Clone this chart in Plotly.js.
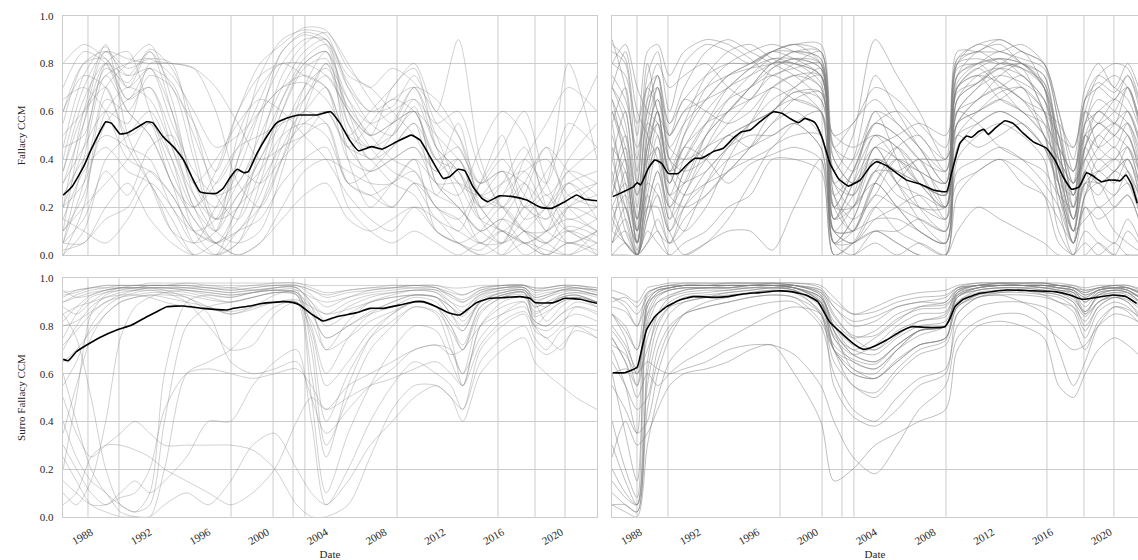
<!DOCTYPE html>
<html><head><meta charset="utf-8">
<script src="https://cdn.plot.ly/plotly-3.0.1.min.js"></script>
<style>html,body{margin:0;padding:0;background:#fff}#chart{width:1138px;height:560px}</style>
</head><body><div id="chart"></div>
<script>
// ---------- tick labels / event lines ----------
const TICK_YEARS = [1988, 1992, 1996, 2000, 2004, 2008, 2012, 2016, 2020];
const TICK_TEXT = ['1988', '1992', '1996', '2000', '2004', '2008', '2012', '2016', '2020'];
const VLINES = [1987.79, 1989.90, 1997.53, 2000.39, 2001.75, 2002.56, 2008.83, 2015.70, 2018.22, 2020.26];

// ---------- top-left: Fallacy CCM (left column) ----------
const TL_X = [1986.1,1987.5,1989,1990.5,1992,1993.5,1995,1996.5,1998,1999.5,2001,2002.5,2004,2005.5,2007,2008.5,2010,2011.5,2013,2014.5,2016,2017.5,2019,2020.5,2022.44];
const TL_LINES = [
[.45,.75,.87,.70,.85,.60,.25,.10,.40,.75,.90,.94,.92,.70,.55,.50,.62,.30,.20,.10,.15,.10,.05,.12,.08],
[.10,.55,.85,.78,.82,.80,.45,.15,.20,.55,.85,.92,.88,.60,.40,.45,.55,.25,.40,.15,.05,.20,.10,.05,.10],
[.60,.80,.82,.65,.70,.45,.20,.05,.15,.45,.75,.88,.93,.80,.65,.55,.70,.50,.30,.25,.35,.20,.15,.25,.30],
[.05,.30,.70,.80,.88,.65,.30,.20,.35,.60,.80,.90,.90,.75,.70,.60,.50,.35,.55,.20,.10,.05,.00,.10,.05],
[.30,.45,.60,.55,.80,.80,.78,.60,.30,.20,.40,.70,.85,.65,.50,.70,.78,.45,.25,.05,.05,.10,.20,.30,.15],
[.00,.10,.40,.50,.60,.40,.10,.00,.05,.30,.60,.80,.85,.40,.20,.30,.40,.10,.05,.02,.10,.05,.00,.05,.00],
[.20,.60,.88,.50,.30,.10,.05,.10,.50,.70,.80,.75,.70,.50,.60,.70,.80,.60,.90,.40,.20,.30,.10,.20,.25],
[.70,.85,.80,.60,.50,.30,.05,.00,.10,.20,.40,.60,.80,.50,.30,.20,.30,.20,.10,.30,.50,.20,.30,.80,.40],
[.10,.20,.30,.40,.55,.30,.20,.30,.45,.50,.55,.60,.70,.45,.35,.40,.45,.35,.40,.20,.25,.35,.40,.25,.20],
[.05,.05,.20,.30,.15,.05,.00,.05,.10,.15,.30,.40,.45,.20,.10,.05,.10,.05,.00,.05,.00,.05,.02,.00,.05],
[.40,.70,.85,.82,.80,.80,.78,.70,.55,.40,.45,.55,.60,.45,.55,.65,.60,.40,.30,.15,.25,.40,.30,.55,.45],
[.50,.60,.70,.50,.55,.40,.20,.35,.60,.75,.80,.80,.75,.60,.45,.35,.30,.15,.10,.05,.10,.00,.05,.10,.00],
[.00,.20,.65,.60,.75,.70,.40,.10,.05,.10,.35,.65,.75,.60,.50,.55,.60,.30,.20,.10,.05,.15,.25,.10,.05],
[.25,.40,.50,.45,.40,.20,.10,.15,.40,.60,.70,.75,.70,.40,.35,.40,.45,.30,.30,.25,.20,.10,.05,.20,.30],
[.15,.10,.05,.15,.30,.20,.05,.20,.35,.30,.40,.50,.55,.30,.25,.30,.35,.20,.15,.30,.45,.60,.30,.15,.20],
[.35,.65,.80,.75,.85,.70,.55,.35,.60,.80,.88,.95,.94,.78,.70,.78,.72,.60,.50,.30,.40,.25,.15,.35,.30],
[.05,.40,.75,.60,.50,.30,.15,.05,.00,.05,.20,.35,.40,.35,.30,.30,.40,.30,.25,.45,.60,.50,.20,.05,.10],
[.60,.75,.70,.45,.30,.15,.00,.00,.05,.20,.45,.60,.55,.30,.35,.45,.55,.40,.35,.20,.10,.20,.35,.50,.75],
[.30,.55,.80,.65,.78,.55,.35,.25,.30,.50,.70,.85,.90,.55,.40,.50,.65,.55,.60,.35,.20,.10,.10,.20,.15],
[.05,.15,.35,.25,.45,.50,.30,.40,.55,.65,.60,.50,.40,.25,.15,.10,.20,.15,.05,.00,.05,.25,.45,.20,.10],
[.45,.50,.80,.85,.60,.35,.15,.05,.20,.40,.55,.65,.80,.65,.55,.60,.65,.45,.35,.15,.10,.05,.10,.30,.20],
[.15,.35,.45,.35,.30,.10,.00,.00,.20,.30,.45,.50,.60,.45,.40,.30,.25,.10,.05,.00,.00,.10,.05,.00,.10],
[.80,.88,.82,.70,.78,.60,.30,.15,.30,.45,.65,.80,.85,.60,.50,.55,.60,.40,.45,.25,.30,.35,.20,.30,.35],
[.20,.30,.55,.65,.70,.50,.20,.10,.25,.35,.50,.55,.50,.30,.25,.20,.30,.25,.20,.10,.15,.05,.10,.15,.10],
[.55,.80,.85,.75,.78,.72,.50,.30,.45,.65,.85,.93,.90,.72,.60,.65,.70,.45,.35,.20,.30,.45,.25,.35,.45],
[.20,.45,.78,.72,.86,.78,.55,.25,.15,.35,.65,.82,.88,.70,.60,.62,.75,.55,.45,.30,.35,.15,.20,.40,.55],
[.65,.70,.60,.40,.35,.25,.10,.05,.10,.25,.50,.70,.78,.62,.50,.40,.35,.20,.15,.05,.15,.30,.45,.35,.25],
[.10,.25,.60,.70,.65,.45,.25,.15,.25,.40,.60,.78,.82,.55,.45,.55,.70,.65,.50,.25,.20,.40,.55,.70,.60],
[.35,.60,.75,.80,.82,.75,.60,.45,.50,.60,.70,.72,.65,.50,.45,.50,.60,.50,.40,.30,.35,.30,.20,.10,.15],
[.02,.05,.15,.20,.35,.25,.10,.05,.00,.05,.15,.25,.30,.15,.10,.15,.20,.10,.05,.10,.20,.10,.00,.05,.02]
];
const TL_MEAN_X = [1986.1,1986.7,1987.5,1988.0,1988.6,1989.0,1989.4,1989.97,1990.5,1991.1,1991.8,1992.2,1992.9,1993.6,1994.3,1994.85,1995.4,1995.9,1996.55,1997.0,1997.5,1997.95,1998.4,1998.7,1999.3,1999.95,2000.6,2001.3,2002.1,2003.36,2004.3,2004.95,2005.6,2006.2,2007.1,2007.8,2008.8,2009.8,2010.4,2011.2,2011.98,2012.4,2013.0,2013.45,2014.0,2014.6,2015.0,2015.8,2016.7,2017.65,2018.6,2019.35,2020.15,2021.06,2021.6,2022.44];
const TL_MEAN_Y = [.25,.285,.37,.44,.515,.557,.55,.506,.511,.532,.557,.553,.494,.453,.397,.327,.265,.258,.258,.279,.327,.358,.344,.348,.425,.494,.55,.571,.585,.585,.599,.55,.48,.436,.453,.442,.473,.501,.48,.397,.32,.327,.358,.352,.285,.237,.223,.247,.244,.23,.199,.195,.219,.251,.233,.227];

// ---------- top-right: Fallacy CCM (right column) ----------
const R_X = [1986.1,1987.0,1987.8,1988.5,1989.2,1990.0,1991.0,1992.5,1994.0,1995.5,1997.0,1998.5,2000.3,2001.2,2002.5,2004.0,2005.5,2007.0,2008.8,2009.6,2011.0,2012.5,2014.0,2015.5,2016.5,2017.5,2018.3,2019.2,2020.3,2021.2,2022.4];
const TR_LINES = [
[.85,.80,.30,.75,.85,.60,.80,.88,.85,.80,.85,.88,.80,.20,.10,.30,.20,.10,.05,.75,.85,.88,.80,.75,.40,.10,.50,.60,.55,.70,.40],
[.60,.40,.05,.40,.60,.30,.50,.70,.80,.85,.88,.85,.80,.15,.30,.60,.40,.20,.10,.80,.82,.80,.85,.70,.30,.05,.60,.45,.40,.50,.20],
[.20,.30,.10,.55,.70,.40,.30,.50,.65,.75,.82,.80,.75,.10,.05,.20,.30,.40,.20,.60,.70,.80,.78,.60,.50,.30,.40,.30,.35,.40,.10],
[.05,.10,.00,.30,.50,.20,.10,.20,.40,.55,.70,.75,.70,.05,.00,.10,.05,.00,.00,.55,.65,.70,.75,.60,.20,.00,.20,.10,.05,.15,.00],
[.40,.60,.20,.65,.80,.70,.75,.80,.70,.65,.78,.82,.78,.30,.40,.75,.60,.45,.30,.70,.78,.70,.60,.55,.45,.35,.55,.70,.65,.75,.50],
[.10,.05,.00,.15,.30,.10,.00,.05,.15,.30,.45,.50,.50,.00,.05,.20,.10,.05,.00,.40,.50,.55,.50,.40,.10,.00,.10,.05,.00,.10,.00],
[.70,.85,.60,.50,.40,.20,.30,.50,.60,.70,.80,.80,.72,.35,.50,.90,.75,.60,.40,.82,.85,.90,.85,.80,.60,.40,.70,.80,.70,.80,.60],
[.30,.20,.05,.20,.20,.05,.10,.30,.45,.55,.60,.70,.75,.20,.20,.40,.35,.30,.25,.65,.75,.78,.70,.60,.35,.15,.35,.20,.25,.30,.10],
[.90,.70,.40,.80,.60,.50,.65,.60,.55,.60,.70,.65,.60,.40,.30,.45,.50,.55,.50,.60,.55,.45,.40,.35,.25,.20,.50,.40,.45,.35,.20],
[.15,.25,.05,.35,.40,.30,.45,.40,.30,.38,.42,.45,.40,.05,.15,.35,.25,.20,.15,.30,.35,.40,.30,.25,.15,.05,.25,.30,.20,.25,.05],
[.50,.30,.10,.25,.10,.05,.20,.35,.45,.55,.65,.70,.78,.25,.15,.25,.40,.35,.30,.75,.80,.85,.80,.70,.50,.25,.45,.55,.50,.60,.35],
[.00,.05,.00,.10,.05,.00,.05,.10,.20,.25,.40,.40,.35,.00,.00,.05,.00,.05,.00,.10,.20,.15,.10,.05,.00,.00,.05,.00,.05,.00,.00],
[.75,.65,.45,.60,.75,.55,.70,.85,.90,.85,.80,.75,.65,.50,.45,.50,.40,.35,.30,.55,.60,.65,.70,.50,.40,.30,.40,.50,.55,.50,.30],
[.25,.45,.15,.45,.55,.35,.25,.30,.35,.45,.55,.65,.68,.15,.25,.50,.45,.30,.20,.70,.75,.72,.65,.55,.30,.10,.30,.35,.30,.40,.15],
[.45,.35,.05,.50,.65,.45,.55,.65,.75,.80,.85,.85,.82,.10,.10,.15,.15,.10,.05,.80,.88,.85,.82,.78,.55,.20,.65,.75,.70,.65,.45],
[.05,.15,.00,.05,.15,.05,.15,.25,.35,.40,.45,.55,.60,.05,.05,.10,.10,.15,.10,.45,.55,.60,.55,.45,.30,.10,.15,.20,.10,.05,.00],
[.65,.50,.25,.40,.45,.25,.40,.55,.60,.70,.80,.80,.75,.45,.55,.65,.55,.45,.35,.60,.70,.75,.72,.65,.50,.45,.60,.55,.60,.70,.45],
[.35,.10,.00,.20,.35,.15,.35,.45,.50,.55,.60,.68,.68,.10,.20,.30,.20,.10,.05,.65,.72,.80,.78,.70,.45,.15,.30,.25,.35,.30,.10],
[.80,.75,.55,.70,.60,.40,.35,.40,.50,.45,.55,.60,.50,.25,.35,.55,.60,.50,.40,.50,.45,.50,.55,.45,.30,.25,.45,.35,.40,.45,.25],
[.10,.35,.05,.30,.25,.10,.20,.30,.40,.45,.50,.55,.45,.10,.10,.25,.20,.15,.10,.35,.40,.45,.40,.30,.20,.05,.20,.15,.20,.25,.05],
[.55,.70,.35,.70,.75,.50,.60,.65,.70,.78,.82,.82,.78,.30,.25,.45,.30,.25,.15,.78,.80,.82,.80,.70,.40,.25,.55,.65,.60,.55,.25],
[.20,.05,.00,.15,.25,.10,.25,.40,.50,.55,.60,.68,.65,.05,.15,.35,.35,.40,.40,.55,.65,.70,.65,.50,.25,.10,.30,.30,.25,.35,.15],
[.70,.55,.15,.45,.70,.55,.65,.75,.80,.80,.85,.88,.85,.40,.30,.40,.30,.20,.20,.85,.85,.85,.88,.80,.55,.30,.65,.70,.75,.70,.45],
[.40,.20,.05,.35,.45,.25,.30,.35,.45,.50,.50,.55,.45,.15,.30,.45,.40,.30,.25,.50,.55,.60,.55,.45,.35,.20,.35,.30,.35,.40,.20],
[.00,.00,.00,.05,.10,.00,.00,.05,.10,.10,.02,.20,.40,.00,.05,.10,.05,.00,.00,.25,.35,.40,.35,.25,.05,.00,.00,.05,.00,.00,.00],
[.60,.45,.10,.55,.50,.30,.45,.55,.65,.70,.75,.70,.60,.20,.35,.55,.50,.40,.35,.70,.75,.65,.60,.50,.40,.30,.50,.45,.50,.55,.35],
[.88,.82,.50,.85,.88,.75,.85,.90,.88,.82,.75,.80,.85,.45,.40,.60,.55,.45,.30,.82,.88,.90,.85,.80,.60,.35,.60,.75,.80,.78,.55],
[.30,.50,.25,.60,.75,.45,.40,.45,.55,.65,.75,.78,.80,.25,.10,.30,.45,.50,.35,.72,.80,.82,.75,.65,.35,.15,.45,.55,.50,.45,.20],
[.55,.25,.02,.25,.45,.15,.25,.45,.60,.70,.78,.82,.80,.15,.20,.45,.30,.15,.05,.70,.78,.82,.80,.72,.45,.20,.40,.50,.45,.55,.30],
[.15,.05,.00,.40,.60,.35,.45,.60,.70,.75,.80,.85,.85,.30,.20,.35,.45,.35,.15,.60,.65,.75,.80,.70,.35,.10,.35,.45,.55,.60,.40],
[.70,.60,.30,.65,.70,.40,.55,.75,.85,.88,.82,.78,.70,.35,.25,.40,.35,.30,.25,.65,.72,.78,.75,.65,.45,.35,.55,.60,.65,.60,.40],
[.45,.15,.00,.20,.35,.20,.35,.50,.60,.65,.70,.75,.75,.10,.05,.15,.20,.25,.20,.50,.60,.68,.70,.60,.30,.05,.25,.35,.40,.35,.10],
[.80,.88,.70,.60,.55,.35,.50,.65,.75,.80,.85,.82,.75,.50,.55,.70,.65,.55,.45,.75,.80,.72,.65,.60,.55,.45,.65,.72,.68,.75,.55],
[.25,.40,.10,.50,.65,.50,.60,.70,.75,.78,.80,.85,.82,.20,.35,.55,.50,.40,.25,.68,.72,.78,.80,.75,.45,.15,.45,.60,.55,.50,.25],
[.05,.20,.00,.35,.55,.25,.20,.25,.35,.45,.60,.65,.60,.05,.10,.30,.40,.30,.20,.55,.60,.65,.60,.50,.25,.05,.25,.40,.35,.45,.15],
[.65,.40,.15,.45,.60,.35,.40,.55,.70,.78,.85,.88,.88,.45,.35,.50,.45,.35,.20,.80,.85,.80,.78,.72,.50,.25,.50,.55,.65,.70,.45]
];
const TR_MEAN_X = [1986.14,1987.54,1987.8,1988.04,1988.56,1989.0,1989.47,1989.92,1990.6,1991.17,1991.74,1992.2,1992.99,1993.67,1994.35,1994.92,1995.5,1996.17,1997.08,1997.65,1998.2,1998.77,1999.23,1999.9,2000.37,2000.93,2001.5,2002.18,2002.98,2003.66,2004.1,2004.8,2005.4,2006.15,2007.05,2007.96,2008.87,2009.2,2009.78,2010.24,2010.58,2011.03,2011.4,2011.7,2012.16,2012.84,2013.4,2014.1,2014.77,2015.68,2016.25,2016.8,2017.38,2017.9,2018.4,2018.85,2019.42,2019.87,2020.33,2020.67,2021.08,2021.47,2021.85];
const TR_MEAN_Y = [.244,.285,.302,.293,.362,.397,.383,.341,.341,.376,.404,.404,.432,.446,.488,.515,.522,.557,.599,.592,.571,.553,.571,.553,.494,.383,.32,.288,.313,.369,.39,.373,.345,.313,.297,.272,.265,.341,.467,.497,.492,.515,.525,.504,.529,.561,.55,.508,.473,.446,.397,.327,.275,.285,.344,.33,.306,.313,.313,.31,.334,.293,.216];

// ---------- bottom-left: Surro Fallacy CCM (left column) ----------
const BL_X = [1986.1,1987.0,1988.0,1989.0,1990.0,1991.0,1992.0,1993.0,1994.5,1996.0,1997.5,1999.0,2000.5,2002.0,2003.0,2004.0,2005.5,2007.0,2008.5,2010.0,2011.5,2012.5,2013.3,2014.5,2016.0,2017.5,2018.2,2019.0,2020.0,2021.0,2022.44];
const BL_LINES = [
[.93,.94,.96,.97,.97,.97,.97,.97,.97,.97,.97,.97,.98,.98,.97,.97,.97,.97,.97,.97,.97,.96,.96,.97,.97,.97,.96,.96,.97,.97,.96],
[.88,.85,.90,.94,.96,.97,.97,.97,.98,.97,.96,.95,.96,.97,.95,.93,.95,.96,.96,.97,.96,.94,.93,.96,.97,.97,.95,.96,.97,.96,.95],
[.95,.92,.93,.95,.96,.96,.96,.96,.95,.93,.92,.94,.96,.96,.90,.85,.90,.93,.94,.95,.94,.90,.88,.93,.95,.96,.92,.93,.95,.95,.93],
[.70,.80,.88,.92,.94,.95,.96,.96,.96,.95,.94,.95,.95,.94,.80,.60,.75,.85,.90,.93,.92,.85,.80,.90,.94,.95,.88,.90,.93,.94,.92],
[.20,.50,.85,.93,.95,.96,.96,.96,.95,.94,.93,.94,.95,.93,.60,.25,.55,.75,.85,.90,.88,.80,.70,.88,.93,.94,.85,.88,.92,.93,.90],
[.60,.40,.20,.10,.05,.02,.10,.60,.90,.93,.92,.94,.95,.95,.70,.30,.50,.70,.80,.88,.85,.70,.60,.85,.92,.93,.88,.90,.92,.93,.90],
[.85,.75,.50,.20,.05,.02,.05,.40,.80,.88,.90,.92,.94,.93,.85,.75,.80,.85,.88,.92,.90,.82,.78,.90,.94,.95,.90,.88,.93,.94,.93],
[.40,.25,.15,.10,.02,.00,.00,.20,.60,.65,.70,.80,.88,.90,.50,.10,.35,.55,.70,.80,.78,.65,.55,.80,.88,.90,.80,.85,.90,.92,.88],
[.10,.05,.15,.40,.75,.88,.92,.94,.95,.94,.93,.94,.95,.94,.88,.80,.85,.90,.92,.93,.92,.88,.85,.92,.95,.95,.90,.92,.94,.95,.93],
[.30,.20,.10,.05,.10,.15,.10,.15,.25,.40,.40,.55,.65,.70,.40,.05,.20,.40,.55,.65,.60,.55,.45,.70,.80,.85,.75,.70,.78,.80,.75],
[.05,.10,.25,.30,.30,.28,.25,.20,.15,.10,.05,.10,.20,.40,.50,.45,.55,.60,.65,.70,.72,.68,.70,.80,.85,.88,.82,.80,.85,.88,.85],
[.50,.35,.25,.30,.35,.40,.35,.30,.30,.30,.30,.28,.20,.05,.00,.00,.05,.25,.45,.55,.55,.50,.40,.60,.70,.75,.65,.60,.55,.50,.45],
[.90,.92,.94,.95,.96,.96,.96,.95,.92,.88,.85,.88,.93,.95,.92,.90,.92,.94,.95,.96,.95,.93,.90,.94,.96,.96,.93,.94,.95,.96,.95],
[.75,.85,.92,.94,.95,.95,.95,.94,.90,.80,.70,.72,.85,.90,.78,.55,.65,.78,.85,.90,.88,.80,.72,.88,.93,.94,.86,.88,.92,.93,.90],
[.55,.65,.80,.88,.92,.94,.95,.95,.94,.92,.90,.92,.94,.93,.75,.40,.60,.75,.82,.88,.86,.78,.70,.86,.92,.94,.82,.80,.85,.90,.88],
[.35,.55,.75,.85,.90,.92,.93,.93,.92,.85,.65,.60,.62,.65,.50,.35,.45,.55,.62,.70,.72,.70,.60,.75,.85,.90,.78,.75,.70,.80,.78],
[.15,.10,.05,.05,.08,.10,.20,.45,.60,.62,.60,.58,.60,.62,.55,.45,.50,.55,.58,.62,.65,.60,.55,.72,.82,.86,.80,.78,.82,.85,.82],
[.85,.88,.90,.92,.93,.93,.92,.90,.88,.87,.86,.88,.90,.91,.88,.85,.87,.90,.92,.93,.92,.88,.82,.90,.93,.94,.80,.75,.80,.88,.86],
[.92,.95,.96,.97,.97,.97,.98,.98,.98,.98,.98,.98,.98,.98,.96,.94,.95,.96,.97,.97,.97,.95,.93,.96,.97,.97,.96,.96,.97,.97,.96],
[.65,.70,.78,.85,.90,.92,.93,.92,.90,.88,.85,.87,.90,.90,.82,.70,.75,.82,.86,.90,.88,.75,.55,.80,.90,.92,.84,.86,.90,.92,.90],
[.80,.82,.86,.90,.92,.93,.94,.94,.93,.91,.90,.92,.94,.94,.86,.75,.80,.86,.90,.93,.92,.85,.78,.91,.94,.95,.90,.82,.88,.92,.90],
[.25,.15,.05,.02,.00,.00,.00,.05,.10,.05,.15,.30,.35,.20,.10,.05,.15,.30,.40,.50,.55,.50,.45,.65,.75,.80,.72,.68,.72,.78,.75],
[.90,.93,.95,.96,.97,.97,.97,.97,.97,.96,.95,.96,.97,.97,.93,.88,.92,.95,.96,.97,.96,.92,.90,.95,.97,.97,.94,.95,.96,.97,.95],
[.82,.88,.93,.95,.96,.96,.97,.97,.96,.95,.94,.95,.96,.96,.88,.70,.82,.90,.93,.95,.94,.88,.84,.93,.96,.96,.91,.92,.95,.96,.94],
[.94,.95,.96,.96,.96,.96,.97,.97,.97,.96,.96,.97,.97,.97,.95,.92,.94,.95,.96,.96,.96,.93,.91,.95,.96,.97,.95,.95,.96,.96,.95],
[.72,.78,.85,.90,.93,.95,.96,.96,.96,.96,.95,.96,.97,.96,.90,.82,.88,.92,.94,.95,.95,.90,.86,.94,.96,.96,.92,.93,.95,.95,.93]
];
const BL_MEAN_X = [1986.1,1986.45,1987.0,1987.7,1988.6,1989.75,1990.77,1991.8,1992.47,1993.15,1994.3,1995.64,1997.24,1997.7,1998.8,1999.7,2001.1,2001.77,2002.2,2003.1,2003.8,2004.72,2006.08,2006.99,2007.9,2009.03,2010.05,2010.6,2011.5,2012.44,2013.1,2013.57,2014.25,2015.15,2016.06,2017.2,2017.88,2018.22,2019.47,2020.26,2021.28,2022.44];
const BL_MEAN_Y = [.66,.654,.692,.72,.752,.783,.804,.839,.86,.881,.884,.874,.867,.874,.884,.895,.902,.898,.888,.846,.821,.839,.856,.874,.874,.888,.902,.902,.881,.853,.846,.867,.898,.916,.919,.923,.916,.898,.898,.916,.912,.895];

// ---------- bottom-right: Surro Fallacy CCM (right column) ----------
const BR_LINES = [
[.95,.93,.90,.96,.97,.98,.98,.98,.98,.98,.98,.98,.97,.92,.85,.88,.92,.94,.95,.97,.98,.98,.98,.98,.98,.97,.96,.97,.97,.97,.95],
[.85,.78,.70,.93,.96,.97,.97,.97,.97,.97,.98,.97,.95,.85,.75,.70,.78,.82,.85,.95,.97,.98,.98,.98,.97,.96,.94,.96,.97,.96,.93],
[.70,.55,.35,.90,.95,.96,.97,.97,.97,.97,.97,.96,.92,.78,.68,.65,.72,.78,.80,.93,.96,.97,.97,.97,.96,.95,.92,.95,.96,.95,.90],
[.20,.10,.05,.85,.93,.95,.96,.96,.96,.97,.97,.96,.90,.70,.60,.58,.65,.72,.75,.92,.96,.97,.97,.96,.95,.94,.88,.94,.95,.94,.88],
[.72,.68,.60,.88,.94,.96,.97,.97,.97,.97,.97,.97,.93,.80,.70,.75,.82,.88,.90,.95,.97,.97,.97,.97,.97,.96,.93,.95,.96,.96,.92],
[.10,.05,.02,.60,.80,.88,.92,.93,.94,.95,.96,.95,.88,.72,.66,.64,.72,.78,.80,.90,.95,.96,.96,.95,.94,.92,.85,.90,.93,.92,.86],
[.90,.92,.88,.94,.96,.97,.97,.97,.98,.98,.98,.97,.94,.88,.80,.82,.88,.90,.92,.96,.97,.98,.98,.98,.97,.97,.95,.96,.97,.96,.94],
[.75,.65,.55,.75,.85,.90,.93,.94,.95,.96,.96,.95,.85,.65,.55,.50,.60,.68,.72,.85,.92,.94,.95,.94,.93,.90,.80,.88,.92,.90,.80],
[.55,.45,.35,.40,.60,.75,.85,.90,.92,.94,.95,.94,.86,.70,.65,.62,.70,.78,.80,.88,.93,.95,.95,.93,.90,.88,.82,.90,.92,.91,.85],
[.80,.72,.62,.80,.90,.93,.95,.96,.96,.96,.97,.96,.90,.75,.68,.72,.80,.85,.86,.94,.96,.97,.97,.96,.96,.95,.90,.94,.95,.95,.90],
[.05,.02,.00,.30,.50,.65,.72,.80,.85,.88,.90,.90,.80,.60,.45,.40,.50,.58,.62,.80,.88,.90,.90,.88,.85,.80,.70,.82,.88,.86,.78],
[.85,.80,.70,.85,.90,.92,.94,.95,.95,.96,.96,.96,.92,.82,.75,.78,.85,.88,.89,.93,.95,.96,.96,.96,.95,.94,.91,.93,.94,.94,.91],
[.85,.75,.60,.70,.82,.88,.90,.92,.93,.94,.95,.94,.90,.78,.68,.65,.72,.78,.80,.90,.94,.95,.95,.94,.93,.90,.84,.90,.93,.92,.87],
[.60,.62,.60,.65,.62,.60,.62,.65,.70,.72,.72,.68,.55,.40,.25,.18,.30,.45,.55,.75,.82,.85,.85,.80,.75,.70,.72,.80,.85,.84,.80],
[.15,.08,.05,.65,.85,.92,.95,.96,.96,.97,.97,.96,.91,.75,.65,.62,.70,.76,.80,.92,.96,.97,.97,.97,.96,.94,.86,.93,.95,.94,.88],
[.75,.65,.50,.60,.55,.60,.65,.70,.75,.80,.85,.88,.85,.70,.60,.58,.65,.72,.75,.88,.92,.93,.90,.85,.70,.55,.65,.80,.88,.87,.82],
[.92,.90,.85,.92,.95,.96,.97,.97,.97,.97,.97,.97,.95,.90,.85,.86,.90,.92,.93,.96,.97,.97,.97,.97,.97,.96,.94,.96,.96,.96,.93],
[.65,.55,.45,.50,.70,.80,.85,.88,.90,.92,.93,.92,.82,.70,.62,.58,.66,.72,.75,.88,.93,.94,.94,.93,.92,.88,.78,.88,.92,.90,.82],
[.25,.40,.30,.35,.45,.55,.60,.62,.65,.70,.72,.60,.40,.15,.20,.30,.35,.40,.45,.70,.80,.82,.80,.75,.55,.50,.60,.70,.75,.72,.65],
[.88,.86,.80,.90,.93,.95,.96,.96,.96,.97,.97,.97,.93,.78,.62,.60,.70,.78,.80,.94,.97,.97,.97,.97,.96,.95,.92,.95,.96,.95,.91],
[.92,.88,.80,.94,.96,.97,.98,.98,.98,.98,.98,.98,.96,.88,.82,.84,.88,.90,.90,.96,.98,.98,.98,.98,.97,.96,.95,.96,.97,.97,.94],
[.40,.20,.08,.88,.94,.96,.97,.97,.97,.97,.97,.96,.92,.80,.72,.70,.76,.82,.84,.94,.97,.97,.97,.97,.96,.95,.90,.95,.96,.95,.90],
[.60,.35,.15,.82,.92,.95,.96,.96,.97,.97,.97,.96,.90,.70,.55,.52,.62,.70,.74,.93,.96,.97,.97,.96,.95,.93,.85,.93,.95,.94,.88],
[.30,.15,.05,.55,.75,.85,.90,.92,.94,.95,.96,.95,.89,.76,.70,.68,.75,.80,.82,.92,.95,.96,.96,.95,.94,.91,.86,.92,.94,.93,.88],
[.78,.70,.55,.90,.95,.96,.97,.97,.97,.97,.97,.97,.94,.84,.76,.76,.83,.87,.88,.95,.97,.98,.97,.97,.97,.96,.93,.95,.96,.96,.92],
[.05,.05,.02,.45,.65,.78,.85,.88,.90,.92,.93,.92,.85,.55,.42,.38,.45,.55,.60,.85,.92,.93,.93,.92,.90,.86,.75,.86,.90,.88,.80]
];
const BR_MEAN_X = [1986.14,1986.97,1987.8,1988.1,1988.44,1989.0,1989.8,1990.7,1991.6,1993.2,1993.9,1995.0,1996.15,1997.3,1998.3,1999.3,2000.1,2000.9,2001.6,2002.5,2003.2,2003.87,2004.78,2005.7,2006.5,2007.5,2008.76,2009.1,2009.44,2010.0,2011.14,2012.96,2014.55,2016.25,2017.27,2018.07,2019.1,2020.2,2021.1,2021.8];
const BR_MEAN_Y = [.604,.604,.627,.699,.783,.839,.881,.909,.923,.92,.923,.934,.94,.947,.944,.93,.902,.818,.776,.727,.702,.713,.741,.776,.797,.794,.797,.832,.881,.912,.937,.951,.948,.944,.93,.912,.92,.93,.923,.895];

// ---------- build ----------
const GREY = 'rgba(128,128,128,0.36)';
const GREY_DENSE = 'rgba(128,128,128,0.5)';
const traces = [];
function addGrey(xs, lines, xa, ya, color) {
  lines.forEach(v => traces.push({x: xs, y: v, xaxis: xa, yaxis: ya, type: 'scatter', mode: 'lines',
    line: {color: color, width: 1, shape: 'spline', smoothing: 0.8}, hoverinfo: 'skip', showlegend: false}));
}
function addMean(xs, ys, xa, ya) {
  traces.push({x: xs, y: ys, xaxis: xa, yaxis: ya, type: 'scatter', mode: 'lines',
    line: {color: '#000000', width: 1.6, shape: 'spline', smoothing: 0.4}, showlegend: false});
}
addGrey(TL_X, TL_LINES, 'x', 'y', GREY);
addGrey(R_X, TR_LINES, 'x2', 'y2', GREY_DENSE);
addGrey(BL_X, BL_LINES, 'x3', 'y3', GREY);
addGrey(R_X, BR_LINES, 'x4', 'y4', GREY_DENSE);
addMean(TL_MEAN_X, TL_MEAN_Y, 'x', 'y');
addMean(TR_MEAN_X, TR_MEAN_Y, 'x2', 'y2');
addMean(BL_MEAN_X, BL_MEAN_Y, 'x3', 'y3');
addMean(BR_MEAN_X, BR_MEAN_Y, 'x4', 'y4');

const FONT = {family: 'Liberation Serif, DejaVu Serif, serif', size: 11, color: '#262626'};
const FRAME = '#cccccc';
const LEFT_DOM = [63/1138, 597/1138];
const RIGHT_DOM = [612/1138, 1];
const TOP_DOM = [1 - 255/560, 1 - 15.7/560];
const BOT_DOM = [1 - 516.7/560, 1 - 278.3/560];
const LEFT_RANGE = [1986.09, 2022.44];
const RIGHT_RANGE = [1986.09, 2021.90];

function xax(dom, range, anchor, labels) {
  const a = {domain: dom, range: range, anchor: anchor, showgrid: false, zeroline: false,
    showline: true, mirror: true, linecolor: FRAME, linewidth: 1.2, ticks: '',
    tickvals: TICK_YEARS, ticktext: TICK_TEXT, showticklabels: labels, tickfont: FONT, fixedrange: true};
  if (labels) { a.tickangle = -30; a.ticklabelstandoff = 4; a.title = {text: 'Date', font: FONT, standoff: 6}; }
  return a;
}
function yax(dom, anchor, labels, title) {
  const a = {domain: dom, range: [0, 1], anchor: anchor, dtick: 0.2, tick0: 0, tickformat: '.1f',
    showgrid: true, gridcolor: FRAME, gridwidth: 1, zeroline: false, showline: true, mirror: true,
    linecolor: FRAME, linewidth: 1.2, ticks: '', showticklabels: labels, tickfont: FONT, ticklabelstandoff: 6, fixedrange: true};
  if (title) a.title = {text: title, font: FONT, standoff: 12};
  return a;
}

const shapes = [];
[['x','y'],['x2','y2'],['x3','y3'],['x4','y4']].forEach(([xa, ya]) => {
  VLINES.forEach(d => shapes.push({type: 'line', xref: xa, yref: ya + ' domain', x0: d, x1: d, y0: 0, y1: 1,
    layer: 'below', line: {color: FRAME, width: 1}}));
});

const layout = {
  width: 1138, height: 560, margin: {l: 0, r: 0, t: 0, b: 0},
  paper_bgcolor: '#ffffff', plot_bgcolor: '#ffffff', showlegend: false, font: FONT,
  xaxis: xax(LEFT_DOM, LEFT_RANGE, 'y', false),
  yaxis: yax(TOP_DOM, 'x', true, 'Fallacy CCM'),
  xaxis2: xax(RIGHT_DOM, RIGHT_RANGE, 'y2', false),
  yaxis2: yax(TOP_DOM, 'x2', false, null),
  xaxis3: xax(LEFT_DOM, LEFT_RANGE, 'y3', true),
  yaxis3: yax(BOT_DOM, 'x3', true, 'Surro Fallacy CCM'),
  xaxis4: xax(RIGHT_DOM, RIGHT_RANGE, 'y4', true),
  yaxis4: yax(BOT_DOM, 'x4', false, null),
  shapes: shapes
};
Plotly.newPlot('chart', traces, layout, {staticPlot: true, displayModeBar: false});
</script></body></html>
